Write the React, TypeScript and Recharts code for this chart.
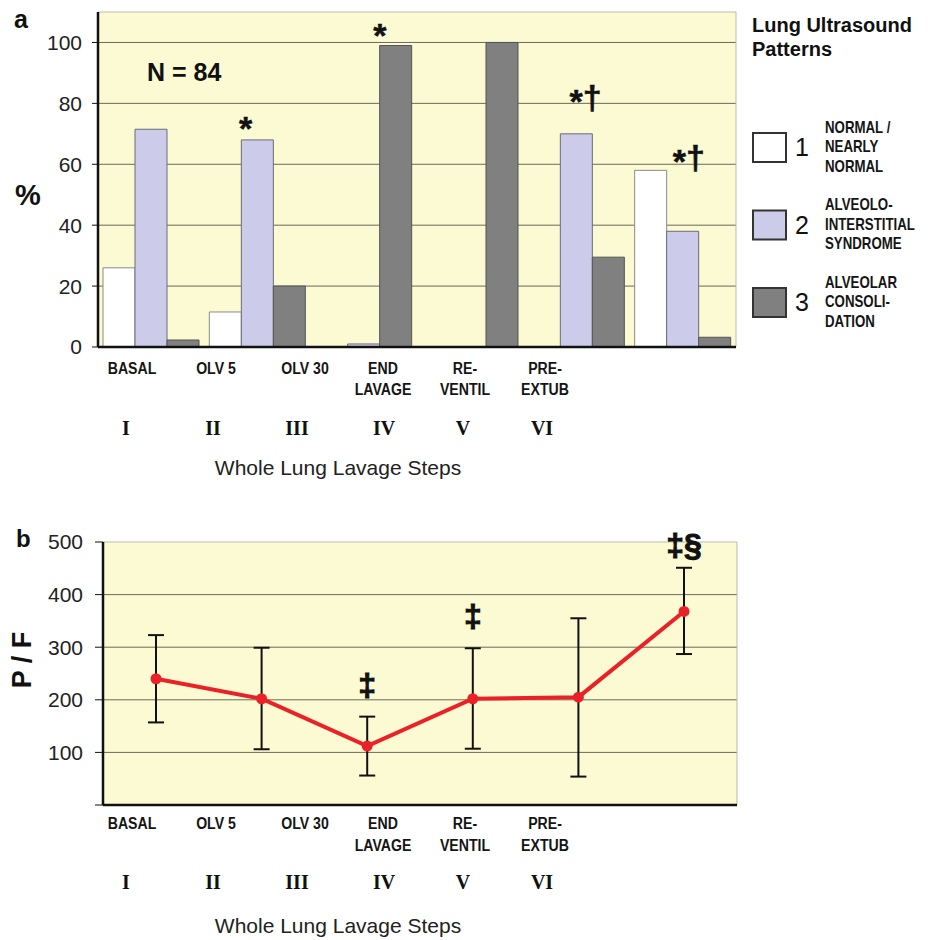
import React from 'react';
import {
  BarChart, Bar, LineChart, Line, XAxis, YAxis, CartesianGrid, ErrorBar,
  ReferenceDot, Label,
} from 'recharts';

// values
const steps = ['BASAL', 'OLV 5', 'OLV 30', 'END LAVAGE', 'RE-VENTIL', 'PRE-EXTUB'];
const stepLines = [['BASAL'], ['OLV 5'], ['OLV 30'], ['END', 'LAVAGE'], ['RE-', 'VENTIL'], ['PRE-', 'EXTUB']];
const stepNumerals = ['I', 'II', 'III', 'IV', 'V', 'VI'];

const normalPct = [26, 11.5, 0, 0, 0, 58];
const interstitialPct = [71.5, 68, 1, 0, 70, 38];
const consolidationPct = [2.3, 20, 99, 100, 29.5, 3.2];
const pctTicks = [0, 20, 40, 60, 80, 100];

const pfMean = [240, 202, 112, 202, 205, 368];
const pfLow = [157, 106, 56, 107, 54, 287];
const pfHigh = [323, 299, 168, 298, 355, 451];
const pfTicks = [0, 100, 200, 300, 400, 500];

// significance marks: step, baseline height (data units), text
const pctMarkSteps = ['OLV 5', 'OLV 30', 'RE-VENTIL', 'PRE-EXTUB'];
const pctMarkLevels = [69.3, 99.7, 78.2, 58.4];
const pctMarkTexts = ['*', '*', '*†', '*†'];

const pfMarkSteps = ['OLV 30', 'END LAVAGE', 'PRE-EXTUB'];
const pfMarkLevels = [207, 339, 474];
const pfMarkTexts = ['‡', '‡', '‡§'];

const patternLines = [
  ['NORMAL /', 'NEARLY', 'NORMAL'],
  ['ALVEOLO-', 'INTERSTITIAL', 'SYNDROME'],
  ['ALVEOLAR', 'CONSOLI-', 'DATION'],
];

// styles / layout
const SANS = "'Liberation Sans', Arial, sans-serif";
const SERIF = "'Liberation Serif', 'Times New Roman', serif";
const NARROW_X = 0.83; // Arial Narrow look, by squeezing Liberation Sans
const PLOT_BG = '#FBFAD3';
const GRID = '#6a6a5a';
const FRAME = '#bdbdb0';
const PATTERN_FILL = ['#FFFFFF', '#CCCCEA', '#808080'];
const PATTERN_STROKE = ['#8a8a8a', '#6a6a7a', '#555555'];
const RED = '#EA2227';
const LABEL_CX = [132, 216, 305, 383, 465, 545];
const NUMERAL_CX = [126, 213, 297, 384, 463, 542];
const TITLE_CX = 338;
const PCT_MARK_DX = [-12, 16, 9, 6];

const pctData = steps.map((step, i) => ({
  step,
  normal: normalPct[i],
  interstitial: interstitialPct[i],
  consolidation: consolidationPct[i],
}));

const pfData = steps.map((step, i) => ({
  step,
  pf: pfMean[i],
  pfErr: [pfMean[i] - pfLow[i], pfHigh[i] - pfMean[i]],
}));

const frameTop = ({ offset }: any) => [offset.top];
const frameRight = ({ offset }: any) => [offset.left + offset.width];

function NarrowText({ x, y, size, anchor = 'middle', children }: any) {
  return (
    <text transform={`translate(${x} ${y}) scale(${NARROW_X} 1)`} x={0} y={0} textAnchor={anchor}
          dominantBaseline="central" fontFamily={SANS} fontWeight="bold" fontSize={size} fill="#151515">
      {children}
    </text>
  );
}

function StepTick({ y, index, first, gap, numeral }: any) {
  const lines = stepLines[index] ?? [];
  return (
    <g>
      {lines.map((ln, k) => (
        <NarrowText key={k} x={LABEL_CX[index]} y={y + first + k * gap} size={17}>{ln}</NarrowText>
      ))}
      <text x={NUMERAL_CX[index]} y={y + numeral} textAnchor="middle" dominantBaseline="central"
            fontFamily={SERIF} fontWeight="bold" fontSize={20} fill="#111">
        {stepNumerals[index]}
      </text>
    </g>
  );
}

function StepsTitle({ viewBox }: any) {
  return (
    <text x={TITLE_CX} y={viewBox.y + 120} textAnchor="middle" dominantBaseline="central"
          fontFamily={SANS} fontSize={21} fill="#222">
      Whole Lung Lavage Steps
    </text>
  );
}

// asterisks are dropped 4px so they centre on the daggers
const starMark = (text: string, dx: number) => (props: any) => {
  const vb = props.viewBox;
  const x = vb.x + vb.width / 2 + dx;
  const y = vb.y + vb.height / 2;
  let prev = 0;
  return (
    <text x={x} y={y} textAnchor="middle" fontFamily={SANS} fontWeight="bold" fontSize={34}
          fill="#111" stroke="#111" strokeWidth={0.5}>
      {text.split('').map((ch, k) => {
        const off = ch === '*' ? 4 : 0;
        const dy = off - prev;
        prev = off;
        return <tspan key={k} dy={dy}>{ch}</tspan>;
      })}
    </text>
  );
};

const daggerMark = (text: string) => (props: any) => {
  const vb = props.viewBox;
  return (
    <text x={vb.x + vb.width / 2} y={vb.y + vb.height / 2} textAnchor="middle"
          fontFamily={SANS} fontWeight="bold" fontSize={32} fill="#111" stroke="#111" strokeWidth={1}>
      {text}
    </text>
  );
};

const yTick = { fontFamily: SANS, fontSize: 21, fill: '#222' };

function UltrasoundChart() {
  return (
    <BarChart width={930} height={490} data={pctData}
              margin={{ top: 12, right: 194, left: 0, bottom: 0 }} barCategoryGap={5} barGap={0}>
      <CartesianGrid fill={PLOT_BG} stroke={GRID} vertical={false} horizontalValues={[20, 40, 60, 80, 100]} />
      <CartesianGrid stroke={FRAME} horizontalCoordinatesGenerator={frameTop} verticalCoordinatesGenerator={frameRight} />
      <XAxis dataKey="step" height={143} tickSize={0} tickMargin={0} tickLine={false}
             axisLine={{ stroke: '#111', strokeWidth: 2.5 }} interval={0}
             tick={(p: any) => <StepTick {...p} first={21} gap={21} numeral={81} />}>
        <Label content={<StepsTitle />} />
      </XAxis>
      <YAxis domain={[0, 110]} ticks={pctTicks} width={98} tickSize={6} tickMargin={10} tick={yTick}
             tickLine={{ stroke: '#111' }} axisLine={{ stroke: '#111', strokeWidth: 2.5 }} allowDataOverflow>
        <Label content={() => (
          <text x={28} y={195} textAnchor="middle" dominantBaseline="central"
                fontFamily={SANS} fontWeight="bold" fontSize={29} fill="#111">%</text>
        )} />
      </YAxis>
      <Bar dataKey="normal" name="1" fill={PATTERN_FILL[0]} stroke={PATTERN_STROKE[0]} isAnimationActive={false} />
      <Bar dataKey="interstitial" name="2" fill={PATTERN_FILL[1]} stroke={PATTERN_STROKE[1]} isAnimationActive={false} />
      <Bar dataKey="consolidation" name="3" fill={PATTERN_FILL[2]} stroke={PATTERN_STROKE[2]} isAnimationActive={false} />
      {pctMarkSteps.map((s, i) => (
        <ReferenceDot key={s} x={s} y={pctMarkLevels[i]} r={0} fill="none" stroke="none"
                      label={starMark(pctMarkTexts[i], PCT_MARK_DX[i])} />
      ))}
    </BarChart>
  );
}

function PfChart() {
  return (
    <LineChart width={930} height={450} data={pfData}
               margin={{ top: 52, right: 193, left: 0, bottom: 0 }}>
      <CartesianGrid fill={PLOT_BG} stroke={GRID} vertical={false} horizontalValues={[100, 200, 300, 400]} />
      <CartesianGrid stroke={FRAME} horizontalCoordinatesGenerator={frameTop} verticalCoordinatesGenerator={frameRight} />
      <XAxis dataKey="step" height={135} padding={{ left: 53, right: 53 }} tickSize={0} tickMargin={0}
             tickLine={false} axisLine={{ stroke: '#111', strokeWidth: 2.5 }} interval={0}
             tick={(p: any) => <StepTick {...p} first={18} gap={22} numeral={77} />}>
        <Label content={<StepsTitle />} />
      </XAxis>
      <YAxis domain={[0, 500]} ticks={pfTicks} width={103} tickSize={8} tickMargin={12} tick={yTick}
             tickFormatter={(v: number) => (v === 0 ? '' : String(v))}
             tickLine={{ stroke: '#111' }} axisLine={{ stroke: '#111', strokeWidth: 2.5 }}>
        <Label content={() => (
          <text x={22} y={170} textAnchor="middle" dominantBaseline="central" transform="rotate(-90 22 170)"
                fontFamily={SANS} fontWeight="bold" fontSize={27} fill="#111">P / F</text>
        )} />
      </YAxis>
      <Line dataKey="pf" stroke={RED} strokeWidth={4} dot={{ r: 3.5, fill: RED, stroke: RED }}
            isAnimationActive={false}>
        <ErrorBar dataKey="pfErr" width={8} stroke="#111" strokeWidth={2} direction="y" />
      </Line>
      {pfMarkSteps.map((s, i) => (
        <ReferenceDot key={s} x={s} y={pfMarkLevels[i]} r={0} fill="none" stroke="none"
                      label={daggerMark(pfMarkTexts[i])} />
      ))}
    </LineChart>
  );
}

function Overlay() {
  return (
    <svg width={930} height={940} style={{ position: 'absolute', left: 0, top: 0, pointerEvents: 'none' }}>
      <text x={14} y={28} fontFamily={SANS} fontWeight="bold" fontSize={25} fill="#111">a</text>
      <text x={16} y={547} fontFamily={SANS} fontWeight="bold" fontSize={24} fill="#111">b</text>
      <text x={147} y={81} fontFamily={SANS} fontWeight="bold" fontSize={25} fill="#111">N = 84</text>
      <text x={752} y={32} fontFamily={SANS} fontWeight="bold" fontSize={20} fill="#111">Lung Ultrasound</text>
      <text x={752} y={56} fontFamily={SANS} fontWeight="bold" fontSize={20} fill="#111">Patterns</text>
      {patternLines.map((lines, i) => {
        const cy = 147 + i * 77.5;
        return (
          <g key={i}>
            <rect x={753} y={cy - 14} width={33} height={29} fill={PATTERN_FILL[i]} stroke="#333" strokeWidth={2} />
            <text x={795} y={cy} dominantBaseline="central" fontFamily={SANS} fontSize={25} fill="#111">{i + 1}</text>
            {lines.map((ln, k) => (
              <NarrowText key={k} x={825} y={cy + (k - 1) * 19.5} size={16} anchor="start">{ln}</NarrowText>
            ))}
          </g>
        );
      })}
    </svg>
  );
}

export default function App() {
  return (
    <div style={{ position: 'absolute', left: 0, top: 0, width: 930, height: 940, background: '#fff' }}>
      <div style={{ position: 'absolute', left: 0, top: 0 }}>
        <UltrasoundChart />
      </div>
      <div style={{ position: 'absolute', left: 0, top: 490 }}>
        <PfChart />
      </div>
      <Overlay />
    </div>
  );
}
